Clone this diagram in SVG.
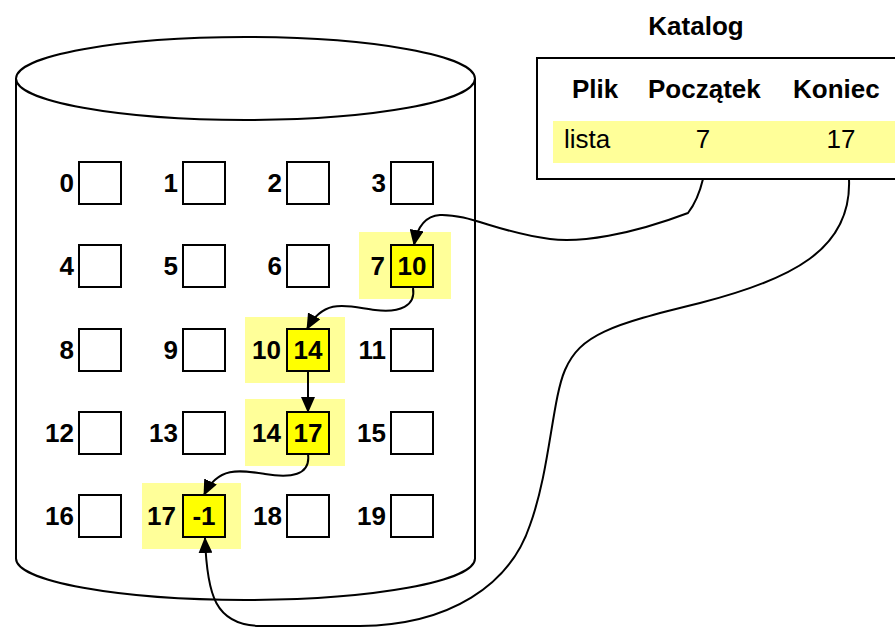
<svg xmlns="http://www.w3.org/2000/svg" width="895" height="627" viewBox="0 0 895 627">
<defs>
<style>
.cyl{fill:#fff;stroke:#000;stroke-width:2}
.box{fill:#fff;stroke:#000;stroke-width:2}
.ybox{fill:#ffff00;stroke:#000;stroke-width:2}
.hl{fill:#ffff99}
.lbl{font-family:"Liberation Sans",Arial,sans-serif;font-size:26px;font-weight:bold;fill:#000;text-anchor:end}
.val{font-family:"Liberation Sans",Arial,sans-serif;font-size:26px;font-weight:bold;fill:#000;text-anchor:middle}
.hdr{font-family:"Liberation Sans",Arial,sans-serif;font-size:26px;font-weight:bold;fill:#000}
.cell{font-family:"Liberation Sans",Arial,sans-serif;font-size:26px;fill:#000}
.con{fill:none;stroke:#000;stroke-width:2}
</style>
<marker id="arr" markerUnits="userSpaceOnUse" markerWidth="16" markerHeight="14" refX="15" refY="7" orient="auto">
<path d="M0,0 L16,7 L0,14 Z" fill="#000"/>
</marker>
</defs>
<rect width="895" height="627" fill="#fff"/>
<g id="disk">
<path class="cyl" d="M16,78.5 L16,558.5 A229.5,41.5 0 0 0 475,558.5 L475,78.5"/>
<ellipse class="cyl" cx="245.5" cy="78.5" rx="229.5" ry="41.5"/>
</g>
<g id="highlights">
<rect class="hl" x="359" y="232" width="92" height="67"/>
<rect class="hl" x="245" y="317" width="100" height="66"/>
<rect class="hl" x="245" y="399" width="100" height="67"/>
<rect class="hl" x="142" y="483" width="99" height="66"/>
</g>
<g id="block0"><rect class="box" x="79" y="162" width="42" height="42"/><text class="lbl" x="74" y="192">0</text></g>
<g id="block1"><rect class="box" x="183" y="162" width="42" height="42"/><text class="lbl" x="178" y="192">1</text></g>
<g id="block2"><rect class="box" x="287" y="162" width="42" height="42"/><text class="lbl" x="282" y="192">2</text></g>
<g id="block3"><rect class="box" x="391" y="162" width="42" height="42"/><text class="lbl" x="386" y="192">3</text></g>
<g id="block4"><rect class="box" x="79" y="245" width="42" height="42"/><text class="lbl" x="74" y="275">4</text></g>
<g id="block5"><rect class="box" x="183" y="245" width="42" height="42"/><text class="lbl" x="178" y="275">5</text></g>
<g id="block6"><rect class="box" x="287" y="245" width="42" height="42"/><text class="lbl" x="282" y="275">6</text></g>
<g id="block7"><rect class="ybox" x="391" y="245" width="42" height="42"/><text class="lbl" x="385" y="275">7</text><text class="val" x="412" y="275">10</text></g>
<g id="block8"><rect class="box" x="79" y="329" width="42" height="42"/><text class="lbl" x="74" y="359">8</text></g>
<g id="block9"><rect class="box" x="183" y="329" width="42" height="42"/><text class="lbl" x="178" y="359">9</text></g>
<g id="block10"><rect class="ybox" x="287" y="329" width="42" height="42"/><text class="lbl" x="281" y="359">10</text><text class="val" x="308" y="359">14</text></g>
<g id="block11"><rect class="box" x="391" y="329" width="42" height="42"/><text class="lbl" x="386" y="359">11</text></g>
<g id="block12"><rect class="box" x="79" y="412" width="42" height="42"/><text class="lbl" x="74" y="442">12</text></g>
<g id="block13"><rect class="box" x="183" y="412" width="42" height="42"/><text class="lbl" x="178" y="442">13</text></g>
<g id="block14"><rect class="ybox" x="287" y="412" width="42" height="42"/><text class="lbl" x="281" y="442">14</text><text class="val" x="308" y="442">17</text></g>
<g id="block15"><rect class="box" x="391" y="412" width="42" height="42"/><text class="lbl" x="386" y="442">15</text></g>
<g id="block16"><rect class="box" x="79" y="495" width="42" height="42"/><text class="lbl" x="74" y="525">16</text></g>
<g id="block17"><rect class="ybox" x="183" y="495" width="42" height="42"/><text class="lbl" x="176" y="525">17</text><text class="val" x="204" y="525">-1</text></g>
<g id="block18"><rect class="box" x="287" y="495" width="42" height="42"/><text class="lbl" x="282" y="525">18</text></g>
<g id="block19"><rect class="box" x="391" y="495" width="42" height="42"/><text class="lbl" x="386" y="525">19</text></g>
<g id="katalog">
<text class="hdr" x="696" y="35" text-anchor="middle">Katalog</text>
<rect x="537" y="58" width="400" height="121" fill="#fff" stroke="#000" stroke-width="2"/>
<rect class="hl" x="553" y="121" width="350" height="42"/>
<text class="hdr" x="572" y="98">Plik</text>
<text class="hdr" x="648" y="98">Początek</text>
<text class="hdr" x="793" y="98">Koniec</text>
<text class="cell" x="564" y="148">lista</text>
<text class="cell" x="703" y="148" text-anchor="middle">7</text>
<text class="cell" x="841" y="148" text-anchor="middle">17</text>
</g>
<g id="connectors">
<path class="con" marker-end="url(#arr)" d="M703,179 Q698,200 688,213 C630,235 580,243 550,239 C500,233 470,214 440,215 C425,216 417,228 414,245"/>
<path class="con" marker-end="url(#arr)" d="M413,288 C416,306 400,313 375,310 C350,307 325,296 307,329"/>
<path class="con" marker-end="url(#arr)" d="M308,371 L308,412"/>
<path class="con" marker-end="url(#arr)" d="M308,454 C311,476 290,478 265,474 C240,470 218,466 204,495"/>
<path class="con" marker-end="url(#arr)" d="M849,179 C852,250 790,280 700,303 C610,325 580,335 565,370 C552,400 550,470 530,525 C510,585 450,625 360,626 L260,626 C215,625 207,595 205,538"/>
</g>
</svg>
